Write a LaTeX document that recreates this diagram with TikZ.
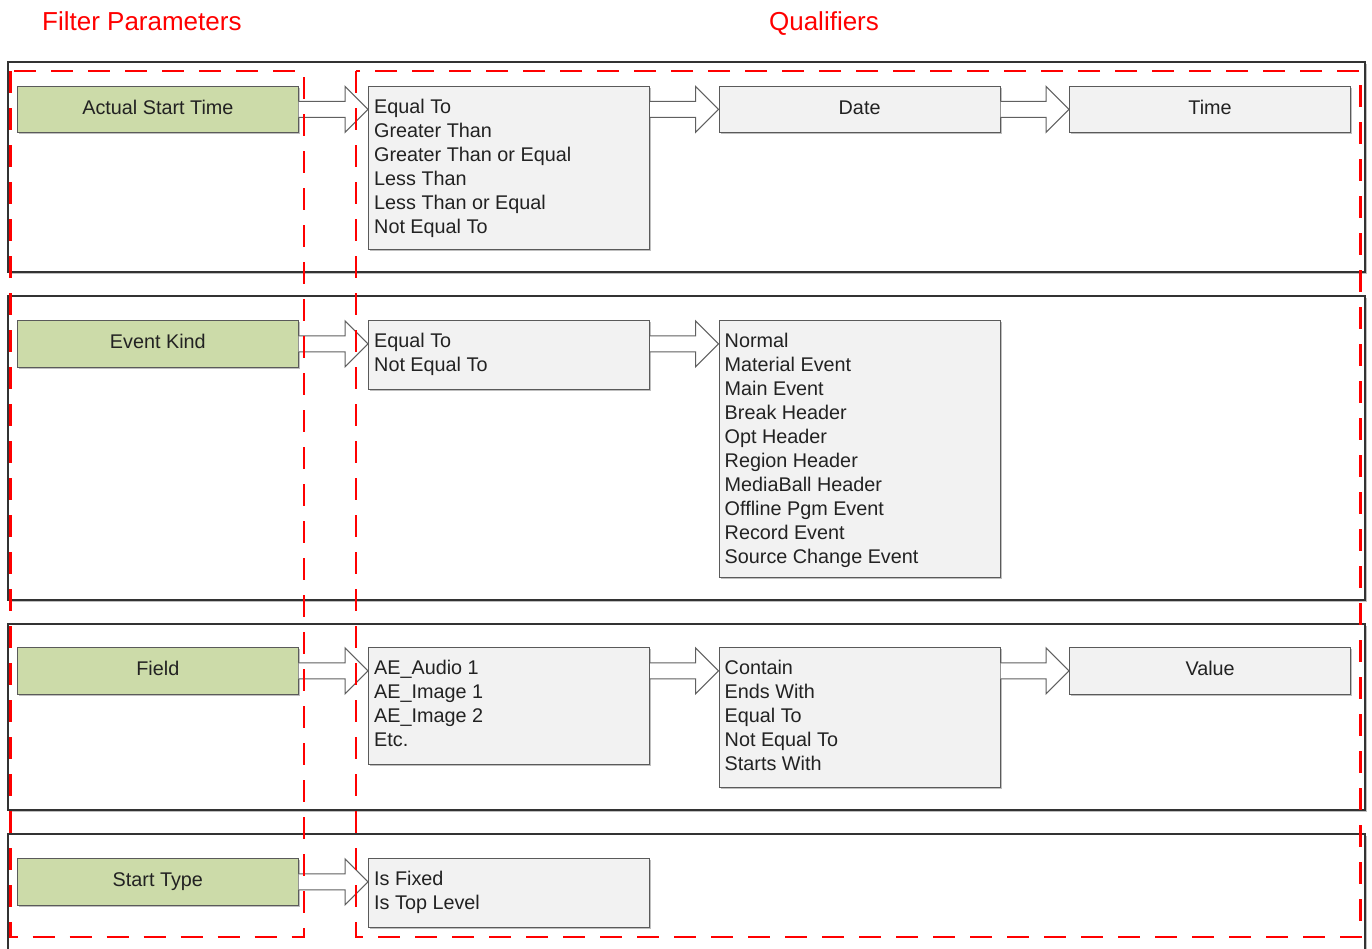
\documentclass[tikz,border=0pt]{standalone}
\usepackage{fontspec}
\setmainfont{Liberation Sans}
\usetikzlibrary{calc,shadows}

\definecolor{boxfill}{HTML}{F2F2F2}
\definecolor{greenfill}{HTML}{CCDBA9}
\definecolor{boxline}{HTML}{5A5A5A}
\definecolor{groupline}{HTML}{333333}
\definecolor{arrowline}{HTML}{606060}
\definecolor{txt}{HTML}{222222}
\definecolor{markred}{HTML}{FF0000}

\newcommand\bodyfont{\fontsize{19.8}{24}\selectfont}
\newcommand\headfont{\fontsize{26}{30}\selectfont}

% block arrow from #1 to #2, at the height of the row's parameter box #3
\newcommand\fatarrow[3]{%
  \path (#1.east |- #3.east) coordinate (fa-s)
        (#2.west |- #3.east) coordinate (fa-t);
  \draw[fatarr] ($(fa-s)+(0,-8)$) -- ($(fa-t)+(-23,-8)$) -- ($(fa-t)+(-23,-23)$)
    -- (fa-t) -- ($(fa-t)+(-23,23)$) -- ($(fa-t)+(-23,8)$) -- ($(fa-s)+(0,8)$);
}
% left-aligned list of entries at the top of box #2
\newcommand\qlist[3]{%
  \node[qtext] (#1) at ($(#2.north west)+(6,7.5)$) {\rule{0pt}{20pt}#3};
}

\begin{document}
\begin{tikzpicture}[
  x=1pt, y=-1pt,
  shade/.style={drop shadow={shadow xshift=1.5pt, shadow yshift=-1.5pt, opacity=.25, fill=black}},
  groupframe/.style={draw=groupline, fill=white, line width=2pt, shade},
  param/.style={draw=boxline, fill=greenfill, line width=1.2pt, anchor=north west,
    minimum width=280.5pt, minimum height=46.5pt, inner sep=0pt, font=\bodyfont,
    text=txt, text height=14pt, text depth=4pt, shade},
  qbox/.style={draw=boxline, fill=boxfill, line width=1.2pt, anchor=north west,
    minimum width=281pt, inner sep=0pt, font=\bodyfont, text=txt,
    text height=14pt, text depth=4pt, shade},
  qtext/.style={anchor=north west, inner sep=0pt, align=left, font=\bodyfont, text=txt},
  fatarr/.style={draw=arrowline, fill=white, line width=1pt, line join=miter},
  redframe/.style={draw=markred, line width=2.6pt, dash pattern=on 22pt off 15pt},
  heading/.style={text=markred, font=\headfont, inner sep=0pt}
]
\useasboundingbox (0,0) rectangle (1372,948);
\clip (0,0) rectangle (1372,948);

% headings
\node[heading, anchor=base west] (hfilter) at (42,30) {Filter Parameters};
\node[heading, anchor=base] (hqual) at (824,30) {Qualifiers};

% row frames
\draw[groupframe] (8,62) rectangle (1365,272);
\draw[groupframe] (8,296) rectangle (1365,600);
\draw[groupframe] (8,624) rectangle (1365,810);
\draw[groupframe] (8,834) rectangle (1365,990);

% filter parameters
\node[param] (pA) at (17,85.5) {Actual Start Time};
\node[param] (pB) at (17,320)  {Event Kind};
\node[param] (pC) at (17,647)  {Field};
\node[param] (pD) at (17,858)  {Start Type};

% row 1: Actual Start Time
\node[qbox, minimum height=163.5pt] (a1) at (368,85.5) {};
\node[qbox, minimum height=46.5pt] (a2) at (718.5,85.5) {Date};
\node[qbox, minimum height=46.5pt] (a3) at (1069,85.5) {Time};
\qlist{a1t}{a1}{Equal To\\Greater Than\\Greater Than or Equal\\Less Than\\Less Than or Equal\\Not Equal To}

% row 2: Event Kind
\node[qbox, minimum height=69pt] (b1) at (368,320) {};
\node[qbox, minimum height=257pt] (b2) at (718.5,320) {};
\qlist{b1t}{b1}{Equal To\\Not Equal To}
\qlist{b2t}{b2}{Normal\\Material Event\\Main Event\\Break Header\\Opt Header\\Region Header\\MediaBall Header\\Offline Pgm Event\\Record Event\\Source Change Event}

% row 3: Field
\node[qbox, minimum height=117pt] (c1) at (368,647) {};
\node[qbox, minimum height=140pt] (c2) at (718.5,647) {};
\node[qbox, minimum height=46.5pt] (c3) at (1069,647) {Value};
\qlist{c1t}{c1}{AE\_Audio 1\\AE\_Image 1\\AE\_Image 2\\Etc.}
\qlist{c2t}{c2}{Contain\\Ends With\\Equal To\\Not Equal To\\Starts With}

% row 4: Start Type
\node[qbox, minimum height=69pt] (d1) at (368,858) {};
\qlist{d1t}{d1}{Is Fixed\\Is Top Level}

% connectors
\fatarrow{pA}{a1}{pA}
\fatarrow{a1}{a2}{pA}
\fatarrow{a2}{a3}{pA}
\fatarrow{pB}{b1}{pB}
\fatarrow{b1}{b2}{pB}
\fatarrow{pC}{c1}{pC}
\fatarrow{c1}{c2}{pC}
\fatarrow{c2}{c3}{pC}
\fatarrow{pD}{d1}{pD}

% column markers
\draw[redframe] (10.5,71) rectangle (304,937);
\draw[redframe] (356,71) rectangle (1360.5,937);
\end{tikzpicture}
\end{document}
